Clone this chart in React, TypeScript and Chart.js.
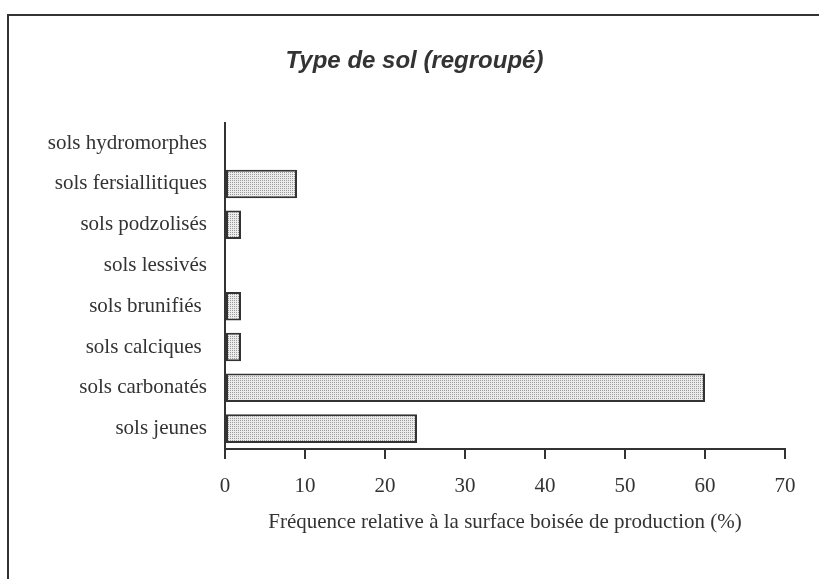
import React, { useEffect, useRef } from 'react';
import { Chart, registerables } from 'chart.js';

Chart.register(...registerables);

const categories = [
  'sols hydromorphes',
  'sols fersiallitiques',
  'sols podzolisés',
  'sols lessivés',
  'sols brunifiés ',
  'sols calciques ',
  'sols carbonatés',
  'sols jeunes',
];
const values = [0, 9, 2, 0, 2, 2, 60, 24];
const xMin = 0;
const xMax = 70;
const xStep = 10;
const chartTitle = 'Type de sol (regroupé)';
const xAxisTitle = 'Fréquence relative à la surface boisée de production (%)';

const W = 819;
const H = 579;

function makePattern(ctx: CanvasRenderingContext2D): CanvasPattern | string {
  const c = document.createElement('canvas');
  c.width = 2;
  c.height = 2;
  const p = c.getContext('2d');
  if (!p) return '#d8d8d8';
  p.fillStyle = '#ececec';
  p.fillRect(0, 0, 2, 2);
  p.fillStyle = '#9a9a9a';
  p.fillRect(0, 0, 1, 1);
  return ctx.createPattern(c, 'repeat') || '#d8d8d8';
}

const framePlugin = {
  id: 'frame',
  beforeDraw(chart: any) {
    const ctx = chart.ctx as CanvasRenderingContext2D;
    ctx.save();
    ctx.fillStyle = '#ffffff';
    ctx.fillRect(0, 0, chart.width, chart.height);
    ctx.fillStyle = '#333333';
    ctx.fillRect(7, 14, 2, chart.height - 14);
    ctx.fillRect(7, 14, chart.width - 7, 2);
    ctx.restore();
  },
};

const serif = '"Liberation Serif", "Times New Roman", serif';

export default function App() {
  const ref = useRef<HTMLCanvasElement | null>(null);

  useEffect(() => {
    const canvas = ref.current;
    if (!canvas) return;
    const ctx = canvas.getContext('2d');
    if (!ctx) return;
    const pattern = makePattern(ctx);
    const chart = new Chart(canvas, {
      type: 'bar',
      data: {
        labels: categories,
        datasets: [
          {
            data: values,
            backgroundColor: pattern as any,
            borderColor: '#333333',
            borderWidth: 2,
            borderSkipped: false,
            barPercentage: 0.7,
            categoryPercentage: 1,
          },
        ],
      },
      options: {
        indexAxis: 'y',
        animation: false,
        responsive: false,
        layout: { padding: { left: 44, right: 34, top: 0, bottom: 0 } },
        plugins: {
          legend: { display: false },
          tooltip: { enabled: false },
          title: {
            display: true,
            text: chartTitle,
            color: '#333333',
            font: { family: '"Liberation Sans", Arial, sans-serif', size: 24, weight: 'bold', style: 'italic', lineHeight: 1.2 },
            padding: { top: 47, bottom: 47 },
          },
        },
        scales: {
          x: {
            type: 'linear',
            min: xMin,
            max: xMax,
            ticks: {
              stepSize: xStep,
              color: '#333333',
              padding: 15,
              font: { family: serif, size: 21 },
            },
            grid: {
              display: true,
              drawOnChartArea: false,
              drawTicks: true,
              tickLength: 10,
              color: '#333333',
              lineWidth: 2,
            },
            border: { display: true, color: '#333333', width: 2 },
            title: {
              display: true,
              text: xAxisTitle,
              color: '#333333',
              font: { family: serif, size: 21 },
              padding: { top: 0, bottom: 44 },
            },
            afterFit: (scale: any) => {
              scale.height = 130;
            },
          },
          y: {
            type: 'category',
            ticks: {
              color: '#333333',
              padding: 18,
              font: { family: serif, size: 21 },
            },
            grid: { display: false, drawTicks: false },
            border: { display: true, color: '#333333', width: 2 },
            afterFit: (scale: any) => {
              scale.width = 181;
            },
          },
        },
      },
      plugins: [framePlugin],
    });
    return () => chart.destroy();
  }, []);

  return (
    <div style={{ position: 'fixed', left: 0, top: 0, width: W, height: H }}>
      <canvas ref={ref} width={W} height={H} style={{ display: 'block', width: W, height: H }} />
    </div>
  );
}
